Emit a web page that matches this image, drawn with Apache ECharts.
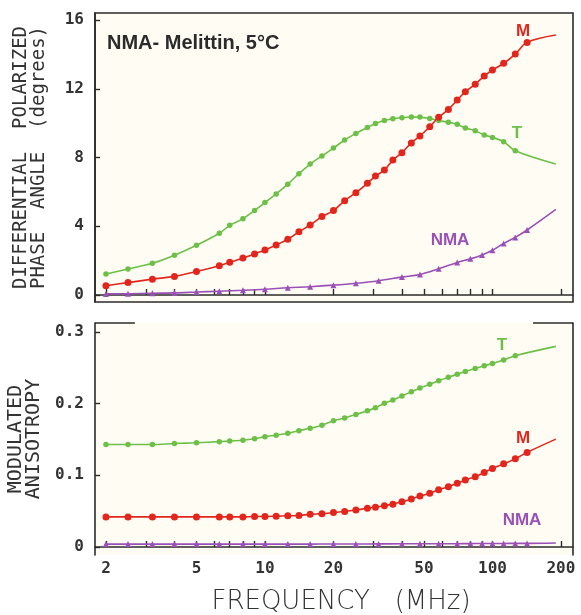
<!DOCTYPE html>
<html><head><meta charset="utf-8">
<script src="https://cdn.jsdelivr.net/npm/echarts@6/dist/echarts.min.js"></script>
<style>html,body{margin:0;padding:0;background:#fff}#c{width:581px;height:615px}</style>
</head><body><div id="c"></div>
<script>
// Frequencies (MHz) of the M and T data points
const freq = [2, 2.5, 3.2, 4, 5, 6.3, 7, 8, 9, 10, 11.2, 12.6, 14.1, 15.8, 17.8, 20, 22.4, 25.1, 28.2, 30.6, 33.5, 36.5, 40, 44, 48, 53, 58, 64, 70, 76, 84, 92, 100, 112, 126, 142];
// Frequencies of the NMA data points
const freqNMA = [2, 2.5, 3.2, 4, 5, 6.3, 8, 10, 12.6, 15.8, 20, 25.1, 31.6, 40, 48, 58, 70, 80, 90, 100, 112, 126, 142];

// Top panel: differential polarized phase angle (degrees)
const phaseM = [0.54, 0.72, 0.92, 1.08, 1.36, 1.70, 1.90, 2.15, 2.39, 2.62, 2.91, 3.24, 3.68, 4.07, 4.56, 4.91, 5.49, 5.95, 6.50, 6.92, 7.27, 7.85, 8.28, 8.85, 9.25, 9.79, 10.34, 10.80, 11.34, 11.83, 12.27, 12.74, 13.09, 13.48, 14.02, 14.70];
const phaseT = [1.22, 1.51, 1.84, 2.31, 2.89, 3.59, 4.05, 4.44, 4.92, 5.38, 5.88, 6.45, 7.06, 7.62, 8.09, 8.55, 9.02, 9.40, 9.75, 9.98, 10.15, 10.26, 10.32, 10.36, 10.35, 10.27, 10.15, 10.05, 9.93, 9.72, 9.56, 9.31, 9.17, 8.92, 8.39];
const phaseNMA = [0.06, 0.07, 0.10, 0.12, 0.17, 0.22, 0.27, 0.33, 0.42, 0.48, 0.57, 0.68, 0.83, 1.04, 1.19, 1.52, 1.89, 2.10, 2.33, 2.60, 3.00, 3.35, 3.78];

// Bottom panel: modulated anisotropy
const anisoM = [0.042, 0.042, 0.042, 0.042, 0.042, 0.042, 0.042, 0.042, 0.0425, 0.0425, 0.043, 0.0435, 0.044, 0.0455, 0.0465, 0.048, 0.0495, 0.0515, 0.054, 0.0555, 0.0577, 0.0598, 0.063, 0.067, 0.071, 0.075, 0.080, 0.084, 0.089, 0.0935, 0.098, 0.104, 0.1095, 0.116, 0.123, 0.132];
const anisoT = [0.143, 0.143, 0.143, 0.1445, 0.1455, 0.147, 0.148, 0.149, 0.151, 0.154, 0.156, 0.1586, 0.1623, 0.1656, 0.170, 0.176, 0.180, 0.185, 0.190, 0.1944, 0.2005, 0.2051, 0.2107, 0.2167, 0.222, 0.227, 0.232, 0.237, 0.241, 0.245, 0.249, 0.253, 0.256, 0.261, 0.267];
const anisoNMA = [0.004, 0.004, 0.004, 0.004, 0.004, 0.004, 0.004, 0.004, 0.004, 0.004, 0.0042, 0.0042, 0.0043, 0.0044, 0.0045, 0.0045, 0.0046, 0.0047, 0.0048, 0.0048, 0.0049, 0.005, 0.005];

// End of the fitted curves (beyond the last data point), order: M, T, NMA
const fitEndFreq = 190;
const fitEndPhase = [15.13, 7.62, 4.98];
const fitEndAniso = [0.1505, 0.280, 0.0055];

// Axis ticks / labels
const xTicks = [2, 3, 4, 5, 6, 7, 8, 9, 10, 20, 30, 40, 50, 60, 70, 80, 90, 100, 200];
const xLabels = [2, 5, 10, 20, 50, 100, 200];
const phaseTicks = [0, 4, 8, 12, 16];
const anisoTicks = [0, 0.1, 0.2, 0.3];

const RED = '#e3261d', GREEN = '#6cc047', PURPLE = '#9a50b6', INK = '#2b2b2b';
const MONO = 'DejaVu Sans Mono';

function mk(name, xs, ys, endY, color, symbol, size, gi) {
  const data = ys.map((y, i) => [xs[i], y]);
  data.push({ value: [fitEndFreq, endY], symbol: 'none' });
  return {
    type: 'line', name, xAxisIndex: gi, yAxisIndex: gi, data,
    smooth: 0.35, symbol, symbolSize: size, showSymbol: true,
    lineStyle: { color, width: 1.6 }, itemStyle: { color, borderWidth: 0 },
    emphasis: { disabled: true }, silent: true, animation: false
  };
}

const chart = echarts.init(document.getElementById('c'), null, { renderer: 'canvas' });

const tickStyle = { color: INK, width: 1.4 };
const lineStyle = { color: INK, width: 1.6 };
const labelFont = { fontFamily: MONO, fontSize: 16, color: '#333', fontWeight: 'bold' };
const yNameStyle = { fontFamily: MONO, fontSize: 19, lineHeight: 18, color: '#333' };

const series = [
  mk('T', freq, phaseT, fitEndPhase[1], GREEN, 'circle', 5.5, 0),
  mk('M', freq, phaseM, fitEndPhase[0], RED, 'circle', 7, 0),
  mk('NMA', freqNMA, phaseNMA, fitEndPhase[2], PURPLE, 'triangle', 6, 0),
  mk('T', freq, anisoT, fitEndAniso[1], GREEN, 'circle', 5.5, 1),
  mk('M', freq, anisoM, fitEndAniso[0], RED, 'circle', 7, 1),
  mk('NMA', freqNMA, anisoNMA, fitEndAniso[2], PURPLE, 'triangle', 6, 1)
];
// partial top frame of the lower panel
series[3].markLine = {
  silent: true, symbol: 'none', label: { show: false },
  lineStyle: { color: INK, width: 1.6, type: 'solid' },
  data: [
    [{ coord: [1.79, 0.3126] }, { coord: [2.68, 0.3126] }],
    [{ coord: [150.7, 0.3126] }, { coord: [226, 0.3126] }]
  ]
};

chart.setOption({
  backgroundColor: '#ffffff',
  animation: false,
  grid: [
    { left: 95, top: 13, width: 478, height: 289, show: true, backgroundColor: '#fffdf3', borderColor: INK, borderWidth: 1.6, outerBoundsMode: 'none', containLabel: false },
    { left: 95, top: 323, width: 478, height: 232, show: true, backgroundColor: '#fffdf3', borderWidth: 0, outerBoundsMode: 'none', containLabel: false }
  ],
  xAxis: [
    { type: 'log', gridIndex: 0, min: 1.79, max: 226, logBase: 10,
      axisLine: { show: true, lineStyle },
      axisTick: { show: true, inside: true, length: 6, customValues: xTicks, lineStyle: tickStyle },
      axisLabel: { show: false }, splitLine: { show: false }, minorTick: { show: false } },
    { type: 'log', gridIndex: 1, min: 1.79, max: 226, logBase: 10,
      axisLine: { show: true, lineStyle },
      axisTick: { show: true, inside: true, length: 6, customValues: xTicks, lineStyle: tickStyle },
      axisLabel: Object.assign({ customValues: xLabels, margin: 6 }, labelFont),
      splitLine: { show: false }, minorTick: { show: false },
      name: 'FREQUENCY   (MHz)', nameLocation: 'middle', nameGap: 34,
      nameTextStyle: { fontFamily: 'DejaVu Sans', fontWeight: 200, fontSize: 26, color: '#333', padding: [0, 0, 0, 14] } }
  ],
  yAxis: [
    { type: 'value', gridIndex: 0, min: -0.41, max: 16.41,
      axisLine: { show: true, lineStyle },
      axisTick: { show: true, inside: true, length: 5, customValues: phaseTicks, lineStyle: tickStyle },
      axisLabel: Object.assign({ customValues: phaseTicks, margin: 11 }, labelFont),
      splitLine: { show: false },
      name: 'DIFFERENTIAL  POLARIZED\nPHASE  ANGLE  (degrees)', nameLocation: 'middle', nameRotate: 90, nameGap: 47,
      nameTextStyle: yNameStyle },
    { type: 'value', gridIndex: 1, min: -0.0112, max: 0.3126,
      axisLine: { show: true, lineStyle },
      axisTick: { show: true, inside: true, length: 5, customValues: anisoTicks, lineStyle: tickStyle },
      axisLabel: Object.assign({ customValues: anisoTicks, margin: 11 }, labelFont),
      splitLine: { show: false },
      name: 'MODULATED\nANISOTROPY', nameLocation: 'middle', nameRotate: 90, nameGap: 47,
      nameTextStyle: Object.assign({}, yNameStyle, { fontSize: 20 }) },
    { type: 'value', gridIndex: 1, position: 'right', min: -0.0112, max: 0.3126,
      axisLine: { show: true, lineStyle }, axisTick: { show: false }, axisLabel: { show: false },
      splitLine: { show: false } }
  ],
  series,
  graphic: [
    { type: 'text', x: 107, y: 43, style: { text: 'NMA- Melittin, 5°C', font: 'bold 20px "Liberation Sans"', fill: '#2b2b2b', textVerticalAlign: 'middle' } },
    { type: 'text', x: 523, y: 31, style: { text: 'M', font: 'bold 17px "Liberation Sans"', fill: RED, textAlign: 'center', textVerticalAlign: 'middle' } },
    { type: 'text', x: 517, y: 133, style: { text: 'T', font: 'bold 17px "Liberation Sans"', fill: GREEN, textAlign: 'center', textVerticalAlign: 'middle' } },
    { type: 'text', x: 450, y: 240, style: { text: 'NMA', font: 'bold 17px "Liberation Sans"', fill: PURPLE, textAlign: 'center', textVerticalAlign: 'middle' } },
    { type: 'text', x: 502, y: 345, style: { text: 'T', font: 'bold 17px "Liberation Sans"', fill: GREEN, textAlign: 'center', textVerticalAlign: 'middle' } },
    { type: 'text', x: 523, y: 438, style: { text: 'M', font: 'bold 17px "Liberation Sans"', fill: RED, textAlign: 'center', textVerticalAlign: 'middle' } },
    { type: 'text', x: 522, y: 520, style: { text: 'NMA', font: 'bold 17px "Liberation Sans"', fill: PURPLE, textAlign: 'center', textVerticalAlign: 'middle' } }
  ]
});
</script>
</body></html>
